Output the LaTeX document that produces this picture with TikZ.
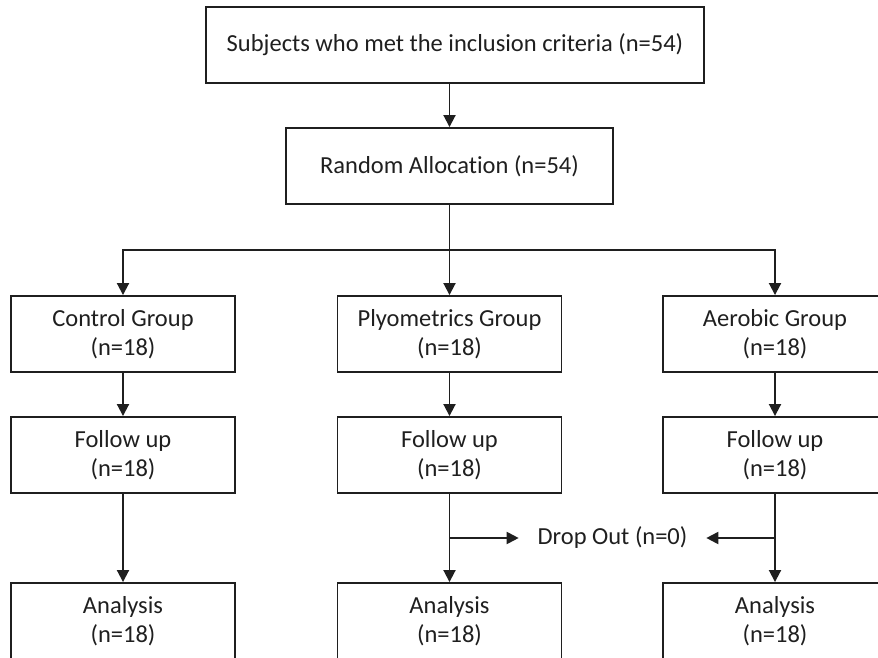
\documentclass[tikz,border=0pt]{standalone}
\usepackage{fontspec}
\setmainfont{Carlito}[Ligatures=NoCommon]
\usepackage{xcolor}
\usetikzlibrary{arrows.meta,positioning}

\begin{document}
\begin{tikzpicture}[
    x=1pt,y=-1pt,
    line width=1.9pt,
    color={black!88},
    b/.style={draw, minimum width=224pt, minimum height=76pt, inner sep=0pt,
              align=center, font=\fontsize{24.5}{29.5}\selectfont},
    a/.style={-{Triangle[length=12pt,width=12pt]}}
]
\useasboundingbox (0,0) rectangle (878,658);
\clip (0,0) rectangle (878,658);
% Enrolment and allocation
\node[b, minimum width=498pt] (incl) at (455,45) {Subjects who met the inclusion criteria (n=54)};
\node[b, minimum width=327pt] (alloc) at (449.5,166) {Random Allocation (n=54)};

% Groups
\node[b] (ctrl) at (123,334) {Control Group\\(n=18)};
\node[b] (plyo) at (449.5,334) {Plyometrics Group\\(n=18)};
\node[b] (aero) at (775,334) {Aerobic Group\\(n=18)};

% Follow up
\node[b] (fctrl) at (123,455) {Follow up\\(n=18)};
\node[b] (fplyo) at (449.5,455) {Follow up\\(n=18)};
\node[b] (faero) at (775,455) {Follow up\\(n=18)};

% Analysis
\node[b] (actrl) at (123,621) {Analysis\\(n=18)};
\node[b] (aplyo) at (449.5,621) {Analysis\\(n=18)};
\node[b] (aaero) at (775,621) {Analysis\\(n=18)};

% Drop out
\node[font=\fontsize{24.5}{29.5}\selectfont, inner xsep=18pt, inner ysep=0pt] (drop) at (612.5,538) {Drop Out (n=0)};
\coordinate (fork) at (449.5,250);
\coordinate (dplyo) at (449.5,538);
\coordinate (daero) at (775,538);

\draw[a] (incl.south -| alloc.north) -- (alloc.north);
\draw (alloc.south) -- (fork);
\draw[a] (fork) -| (ctrl.north);
\draw[a] (fork) -- (plyo.north);
\draw[a] (fork) -| (aero.north);
\draw[a] (ctrl) -- (fctrl);
\draw[a] (plyo) -- (fplyo);
\draw[a] (aero) -- (faero);
\draw[a] (fctrl) -- (actrl);
\draw[a] (fplyo) -- (aplyo);
\draw[a] (faero) -- (aaero);
\draw[a] (dplyo) -- (drop.west);
\draw[a] (daero) -- (drop.east);
\end{tikzpicture}
\end{document}
